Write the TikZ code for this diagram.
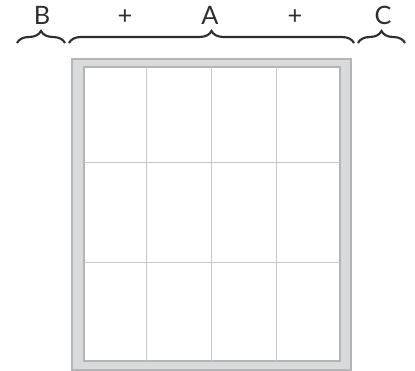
\documentclass[tikz,border=0pt]{standalone}
\usepackage{fontspec}
\setmainfont{Lato}
\usepackage{xcolor}
\usepackage{tikz}
\usetikzlibrary{positioning, decorations.pathreplacing, calc}

\definecolor{framegray}{HTML}{D9DADC}
\definecolor{edgegray}{HTML}{B4B5B7}
\definecolor{gridgray}{HTML}{C6C6C8}
\definecolor{inkgray}{HTML}{2E2E2E}

\tikzset{
  bracepart/.style={draw=inkgray, line width=1.6pt,
    decorate, decoration={brace, amplitude=9pt}},
  bracelabel/.style={anchor=base, text=inkgray, font=\fontsize{19}{22}\selectfont}
}

\begin{document}
\begin{tikzpicture}[x=0.75pt, y=-0.75pt]
        \useasboundingbox (0, 0) rectangle (415, 371);

        % frame and panes
        \fill[framegray, draw=edgegray, line width=0.8pt] (72, 59) rectangle (351, 370);
        \fill[white, draw=edgegray, line width=0.8pt] (84, 67) rectangle (340, 361);
        \foreach \gx in {146, 211, 276}
            \draw[gridgray, line width=0.7pt] (\gx, 67) -- (\gx, 361);
        \foreach \gy in {162, 262}
            \draw[gridgray, line width=0.7pt] (84, \gy) -- (340, \gy);

        % brace end points
        \coordinate (bL) at (17, 43);
        \coordinate (bR) at (65, 43);
        \coordinate (aL) at (69, 43);
        \coordinate (aR) at (354, 43);
        \coordinate (cL) at (358, 43);
        \coordinate (cR) at (405, 43);

        \draw[bracepart] (bL) -- (bR);
        \draw[bracepart] (aL) -- (aR);
        \draw[bracepart] (cL) -- (cR);

        % labels
        \node[bracelabel] (labB)  at (42, 24)  {B};
        \node[bracelabel] (plus1) at (125, 24) {+};
        \node[bracelabel] (labA)  at (210, 24) {A};
        \node[bracelabel] (plus2) at (295, 24) {+};
        \node[bracelabel] (labC)  at (383, 24) {C};
    \end{tikzpicture}
\end{document}
